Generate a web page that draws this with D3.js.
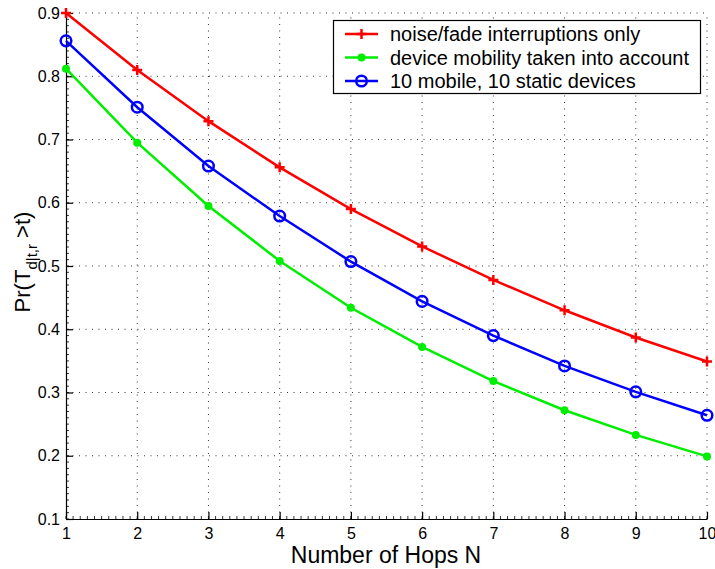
<!DOCTYPE html>
<html><head><meta charset="utf-8">
<script src="https://cdn.jsdelivr.net/npm/d3@7"></script>
<style>body{margin:0;background:#fff}svg{display:block}text{font-family:"Liberation Sans",Arial,sans-serif}</style>
</head><body><svg id="c" width="715" height="569"></svg>
<script>
const hops = [1,2,3,4,5,6,7,8,9,10];
const noiseOnly = [0.900,0.810,0.729,0.656,0.590,0.531,0.478,0.430,0.387,0.349];
const mobility = [0.812,0.695,0.595,0.508,0.434,0.372,0.318,0.272,0.233,0.199];
const mixed = [0.856,0.751,0.658,0.579,0.507,0.444,0.390,0.342,0.301,0.264];
const xTicks = [1,2,3,4,5,6,7,8,9,10];
const yTicks = [0.1,0.2,0.3,0.4,0.5,0.6,0.7,0.8,0.9];
const seriesNames = ["noise/fade interruptions only","device mobility taken into account","10 mobile, 10 static devices"];

const svg = d3.select("#c");
const L=66,R=707,T=13,B=519;
const x = d3.scaleLinear().domain([1,10]).range([L,R]);
const y = d3.scaleLinear().domain([0.1,0.9]).range([B,T]);

// grid
const g = svg.append("g");
g.selectAll(".gx").data(xTicks.slice(1)).enter().append("line")
  .attr("x1",d=>x(d)).attr("x2",d=>x(d)).attr("y1",B).attr("y2",T)
  .attr("stroke","#333").attr("stroke-width",1).attr("stroke-dasharray","1,5.5");
g.selectAll(".gy").data(yTicks.slice(1)).enter().append("line")
  .attr("y1",d=>y(d)).attr("y2",d=>y(d)).attr("x1",L).attr("x2",R)
  .attr("stroke","#333").attr("stroke-width",1).attr("stroke-dasharray","1,5.5");

// minor ticks
const minorX = d3.range(1,10.001,0.1);
const minorY = d3.range(0.1,0.9001,0.01);
svg.append("g").selectAll("line").data(minorX).enter().append("line")
  .attr("x1",d=>x(d)).attr("x2",d=>x(d)).attr("y1",B).attr("y2",B-3)
  .attr("stroke","#000").attr("stroke-width",0.8);
svg.append("g").selectAll("line").data(minorY).enter().append("line")
  .attr("y1",d=>y(d)).attr("y2",d=>y(d)).attr("x1",L).attr("x2",L+3)
  .attr("stroke","#000").attr("stroke-width",0.8);

// axes
const xAxis = svg.append("g").attr("transform",`translate(0,${B})`)
  .call(d3.axisBottom(x).tickValues(xTicks).tickFormat(d3.format("d")).tickSizeInner(-7).tickSizeOuter(0).tickPadding(8.5));
const yAxis = svg.append("g").attr("transform",`translate(${L},0)`)
  .call(d3.axisLeft(y).tickValues(yTicks).tickFormat(d3.format(".1f")).tickSizeInner(-7).tickSizeOuter(0).tickPadding(6));
[xAxis,yAxis].forEach(a=>{
  a.attr("font-size",16).attr("font-family","Liberation Sans, Arial, sans-serif");
  a.select(".domain").attr("stroke","#000").attr("stroke-width",1.2);
  a.selectAll(".tick line").attr("stroke","#000").attr("stroke-width",1.2);
  a.selectAll(".tick text").attr("fill","#000").style("font-size","16px");
});

// lines
const line = d3.line().x((d,i)=>x(hops[i])).y(d=>y(d));
const cols = ["#ff0000","#00ee00","#0000ff"];
const data = [noiseOnly,mobility,mixed];
data.forEach((s,k)=>{
  svg.append("path").datum(s).attr("d",line).attr("fill","none")
    .attr("stroke",cols[k]).attr("stroke-width",2.5);
});
function marker(sel,k,cx,cy){
  if(k===0){
    sel.append("path").attr("d",`M${cx-5},${cy}H${cx+5}M${cx},${cy-5}V${cy+5}`)
      .attr("stroke",cols[0]).attr("stroke-width",2.5).attr("fill","none");
  } else if(k===1){
    sel.append("circle").attr("cx",cx).attr("cy",cy).attr("r",4).attr("fill",cols[1]);
  } else {
    sel.append("circle").attr("cx",cx).attr("cy",cy).attr("r",5.3).attr("fill","none")
      .attr("stroke",cols[2]).attr("stroke-width",2.5);
  }
}
data.forEach((s,k)=>{
  const mg = svg.append("g");
  s.forEach((v,i)=>marker(mg,k,x(hops[i]),y(v)));
});

// legend
const lg = svg.append("g");
lg.append("rect").attr("x",333.5).attr("y",20.5).attr("width",367).attr("height",73)
  .attr("fill","#fff").attr("stroke","#000").attr("stroke-width",1.2);
seriesNames.forEach((n,k)=>{
  const yy = 34 + k*23.5;
  lg.append("line").attr("x1",345).attr("x2",378).attr("y1",yy).attr("y2",yy)
    .attr("stroke",cols[k]).attr("stroke-width",2.5);
  marker(lg,k,361.5,yy);
  lg.append("text").attr("x",390).attr("y",yy+7).style("font-size","20px").text(n);
});

// labels
svg.append("text").attr("x",386).attr("y",563).attr("text-anchor","middle")
  .style("font-size","23px").text("Number of Hops N");
const yl = svg.append("text").attr("transform","translate(30,262) rotate(-90)")
  .attr("text-anchor","middle").style("font-size","22px");
yl.append("tspan").text("Pr(T");
yl.append("tspan").style("font-size","15px").attr("dy",7).text("d|t,r");
yl.append("tspan").attr("dy",-7).text(" >t)");
</script></body></html>
